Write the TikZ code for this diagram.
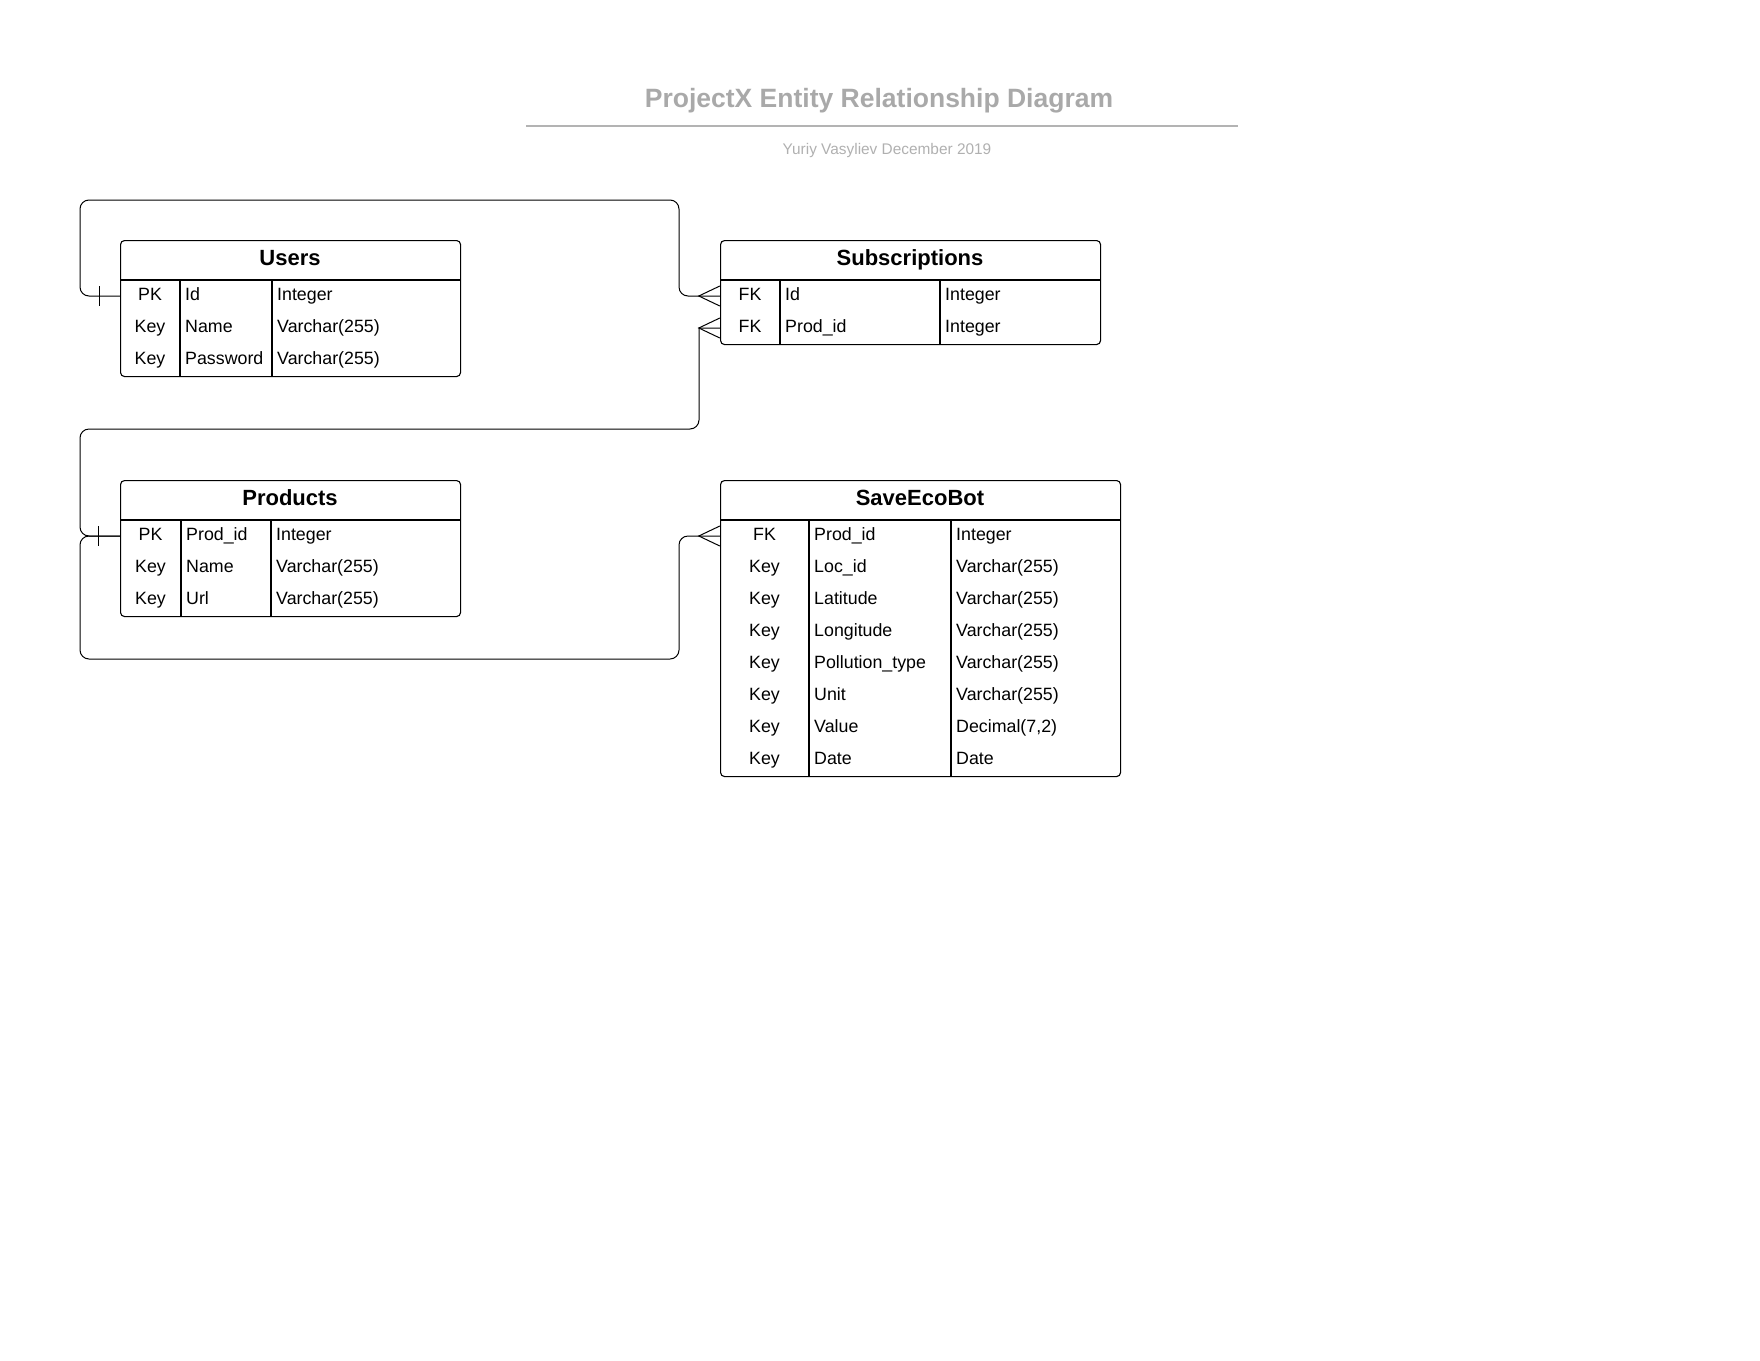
\documentclass[tikz,border=0pt]{standalone}
\usepackage{fontspec}
\setmainfont{Liberation Sans}
\usetikzlibrary{calc}
\definecolor{titlegray}{HTML}{A9A9A9}
\definecolor{subgray}{HTML}{B0B0B0}
\definecolor{linegray}{HTML}{B3B3B3}
\newcommand{\ertab}[9]{%
  \node[tbl, minimum width={(#6-#2)*1pt}, minimum height={(40+32*#7)*1pt}] (#1) at (#2,#3) {};
  \node[hdr] (#1-h) at ({(#2+#6)/2},{#3+17.5}) {#8};
  \draw[rule] (#2,{#3+40}) -- (#6,{#3+40});
  \draw[rule] (#4,{#3+40}) -- (#4,{#3+40+32*#7});
  \draw[rule] (#5,{#3+40}) -- (#5,{#3+40+32*#7});
  \foreach \ka/\na/\ta [count=\i from 0] in {#9} {
    \node[keyc, minimum width={(#4-#2)*1pt}] (#1-k\i) at ({(#2+#4)/2},{#3+56+32*\i}) {\ka};
    \node[fld] (#1-n\i) at (#4,{#3+56+32*\i}) {\na};
    \node[fld] (#1-t\i) at (#5,{#3+56+32*\i}) {\ta};
  }
}
\begin{document}
\begin{tikzpicture}[x=1pt,y=-1pt,
  tbl/.style={draw=black,line width=1.1pt,rounded corners=4pt,anchor=north west,inner sep=0pt},
  rule/.style={draw=black,line width=1.1pt},
  hdr/.style={font=\fontsize{22}{26}\selectfont\bfseries,inner sep=0pt,text height=15.8pt,text depth=0pt},
  keyc/.style={font=\fontsize{17.8}{21}\selectfont,inner sep=0pt,minimum height=32pt,text height=12.8pt,text depth=4.4pt},
  fld/.style={font=\fontsize{17.8}{21}\selectfont,anchor=west,inner xsep=5pt,inner ysep=0pt,text height=12.8pt,text depth=4.4pt},
  conn/.style={draw=black,line width=1pt,rounded corners=9pt},
  endm/.style={draw=black,line width=1pt}
]
\useasboundingbox (0,0) rectangle (1760,1360);

% title block
\node[font=\fontsize{26.5}{30}\selectfont\bfseries,text=titlegray,anchor=base,inner sep=0pt] (title) at (879,107) {ProjectX Entity Relationship Diagram};
\draw[draw=linegray,line width=2pt] (526,126) -- (1238,126);
\node[font=\fontsize{15.4}{18}\selectfont,text=subgray,anchor=base,inner sep=0pt] (subtitle) at (887,154.5) {Yuriy Vasyliev December 2019};

% tables
\ertab{users}{120}{240}{180}{272}{460}{3}{Users}{PK/Id/Integer, Key/Name/Varchar(255), Key/Password/Varchar(255)}
\ertab{subs}{720}{240}{780}{940}{1100}{2}{Subscriptions}{FK/Id/Integer, FK/Prod\_id/Integer}
\ertab{prod}{120}{480}{181}{271}{460}{3}{Products}{PK/Prod\_id/Integer, Key/Name/Varchar(255), Key/Url/Varchar(255)}
\ertab{save}{720}{480}{809}{951}{1120}{8}{SaveEcoBot}{FK/Prod\_id/Integer, Key/Loc\_id/Varchar(255), Key/Latitude/Varchar(255), Key/Longitude/Varchar(255), Key/Pollution\_type/Varchar(255), Key/Unit/Varchar(255), Key/Value/{Decimal(7,2)}, Key/Date/Date}

% connectors
\draw[conn] (users-k0.west) -- (80,296) -- (80,200) -- (679,200) -- (679,296) -- (subs-k0.west);
\draw[conn] (prod-k0.west) -- (80,536) -- (80,429) -- (699,429) [sharp corners] -- (699,328) -- (subs-k1.west);
\draw[conn] (prod-k0.west) -- (80,536) -- (80,659) -- (679,659) -- (679,536) -- (save-k0.west);

% one marks
\draw[endm] ($(users-k0.west)+(-20,-10)$) -- ($(users-k0.west)+(-20,10)$);
\draw[endm] ($(prod-k0.west)+(-21,-10)$) -- ($(prod-k0.west)+(-21,10)$);

% crow's feet
\draw[endm] ($(subs-k0.west)+(0,-10)$) -- ($(subs-k0.west)+(-21,0)$) -- ($(subs-k0.west)+(0,10)$);
\draw[endm] ($(subs-k1.west)+(0,-10)$) -- ($(subs-k1.west)+(-21,0)$) -- ($(subs-k1.west)+(0,10)$);
\draw[endm] ($(save-k0.west)+(0,-10)$) -- ($(save-k0.west)+(-21,0)$) -- ($(save-k0.west)+(0,10)$);
\end{tikzpicture}
\end{document}
